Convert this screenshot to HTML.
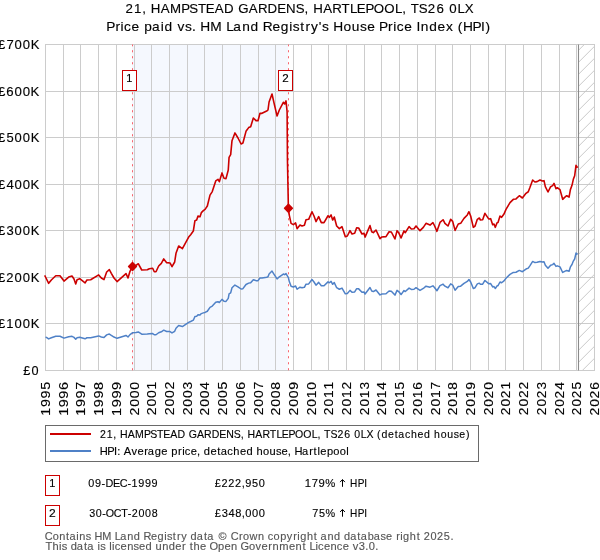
<!DOCTYPE html>
<html><head><meta charset="utf-8"><title>chart</title>
<style>html,body{margin:0;padding:0;background:#fff;}svg{display:block;}</style></head><body>
<svg width="600" height="560" viewBox="0 0 600 560" font-family="'Liberation Sans', sans-serif">
<rect width="600" height="560" fill="#fff"/>
<rect x="132" y="44.5" width="156" height="326.00" fill="#f5f8fe"/>
<path d="M63.5 44.5V370.5M80.5 44.5V370.5M98.5 44.5V370.5M116.5 44.5V370.5M134.5 44.5V370.5M151.5 44.5V370.5M169.5 44.5V370.5M187.5 44.5V370.5M204.5 44.5V370.5M222.5 44.5V370.5M240.5 44.5V370.5M258.5 44.5V370.5M275.5 44.5V370.5M293.5 44.5V370.5M311.5 44.5V370.5M328.5 44.5V370.5M346.5 44.5V370.5M364.5 44.5V370.5M381.5 44.5V370.5M399.5 44.5V370.5M417.5 44.5V370.5M435.5 44.5V370.5M452.5 44.5V370.5M470.5 44.5V370.5M488.5 44.5V370.5M505.5 44.5V370.5M523.5 44.5V370.5M541.5 44.5V370.5M559.5 44.5V370.5M576.5 44.5V370.5M45.5 323.5H594.5M45.5 277.5H594.5M45.5 230.5H594.5M45.5 184.5H594.5M45.5 137.5H594.5M45.5 91.5H594.5" stroke="#cccccc" stroke-width="1" fill="none"/>
<clipPath id="hc"><rect x="578.5" y="44.5" width="16.00" height="326.00"/></clipPath>
<path d="M576.50 -91.70L596.50 -111.70M576.50 -79.70L596.50 -99.70M576.50 -67.70L596.50 -87.70M576.50 -55.70L596.50 -75.70M576.50 -43.70L596.50 -63.70M576.50 -31.70L596.50 -51.70M576.50 -19.70L596.50 -39.70M576.50 -7.70L596.50 -27.70M576.50 4.30L596.50 -15.70M576.50 16.30L596.50 -3.70M576.50 28.30L596.50 8.30M576.50 40.30L596.50 20.30M576.50 52.30L596.50 32.30M576.50 64.30L596.50 44.30M576.50 76.30L596.50 56.30M576.50 88.30L596.50 68.30M576.50 100.30L596.50 80.30M576.50 112.30L596.50 92.30M576.50 124.30L596.50 104.30M576.50 136.30L596.50 116.30M576.50 148.30L596.50 128.30M576.50 160.30L596.50 140.30M576.50 172.30L596.50 152.30M576.50 184.30L596.50 164.30M576.50 196.30L596.50 176.30M576.50 208.30L596.50 188.30M576.50 220.30L596.50 200.30M576.50 232.30L596.50 212.30M576.50 244.30L596.50 224.30M576.50 256.30L596.50 236.30M576.50 268.30L596.50 248.30M576.50 280.30L596.50 260.30M576.50 292.30L596.50 272.30M576.50 304.30L596.50 284.30M576.50 316.30L596.50 296.30M576.50 328.30L596.50 308.30M576.50 340.30L596.50 320.30M576.50 352.30L596.50 332.30M576.50 364.30L596.50 344.30M576.50 376.30L596.50 356.30M576.50 388.30L596.50 368.30M576.50 400.30L596.50 380.30M576.50 412.30L596.50 392.30M576.50 424.30L596.50 404.30M576.50 436.30L596.50 416.30M576.50 448.30L596.50 428.30M576.50 460.30L596.50 440.30M576.50 472.30L596.50 452.30M576.50 484.30L596.50 464.30M576.50 496.30L596.50 476.30M576.50 508.30L596.50 488.30M576.50 520.30L596.50 500.30" stroke="#c4c4c4" stroke-width="0.9" fill="none" clip-path="url(#hc)"/>
<rect x="45.5" y="44.5" width="549.00" height="326.00" fill="none" stroke="#cccccc" stroke-width="1"/>
<path d="M578.5 44.5V370.5" stroke="#8a8a8a" stroke-width="1.1" fill="none"/>
<path d="M132.5 370.3V44.5" stroke="#f8666f" stroke-width="1" stroke-dasharray="2.1 3.9" fill="none"/>
<path d="M288.5 370.3V44.5" stroke="#f8666f" stroke-width="1" stroke-dasharray="2.1 3.9" fill="none"/>
<path d="M46.00 336.67L46.00 337.03L48.67 338.94L51.33 337.74L55.73 336.21L60.00 336.21L64.00 338.13L68.67 336.69L72.00 336.31L74.00 337.36L75.73 339.18L77.07 337.65L79.73 337.27L85.07 338.79L86.93 337.74L90.67 337.65L98.67 335.92L101.33 337.03L104.00 337.60L106.67 334.87L109.33 334.01L111.33 335.35L114.00 337.03L117.07 338.32L126.00 335.45L128.00 337.03L130.00 334.63L132.40 332.87L136.00 332.48L138.27 331.91L141.73 334.16L147.33 334.06L149.33 333.68L152.67 333.54L154.27 334.78L156.00 334.78L158.67 332.72L161.33 331.77L163.73 330.19L166.67 331.53L170.00 331.62L172.00 332.96L174.67 331.29L176.00 328.18L178.67 325.56L182.40 326.51L188.67 322.35L190.67 321.49L193.33 320.20L194.93 316.48L196.67 316.24L198.00 314.80L200.00 315.04L201.33 313.61L203.33 312.89L205.07 312.41L207.33 311.22L210.00 307.30L212.27 306.06L215.73 302.23L218.00 301.66L219.33 302.52L222.00 299.37L224.00 301.28L226.00 301.42L228.27 298.32L229.07 293.77L230.67 292.82L232.00 287.80L234.93 285.03L238.00 286.85L241.07 289.00L242.93 288.66L246.00 284.46L248.67 283.12L250.67 282.78L253.33 279.68L256.00 280.63L258.00 280.63L260.00 278.00L262.00 278.00L266.67 277.19L268.00 276.81L269.07 273.94L272.00 271.08L274.40 274.90L277.07 278.96L279.33 276.81L283.33 274.04L284.67 274.66L286.00 273.56L288.40 277.60L289.33 281.62L291.07 286.19L293.33 286.95L295.60 285.96L297.07 289.24L300.00 287.18L302.00 287.71L304.40 287.33L306.00 284.13L308.67 283.90L312.00 279.56L314.00 282.00L316.00 285.20L318.67 282.38L321.33 285.81L324.00 285.81L328.00 281.85L329.33 282.76L331.07 281.39L332.67 284.29L334.27 282.61L336.67 287.71L339.33 289.24L342.00 288.10L345.33 293.81L347.33 293.43L350.00 290.38L352.00 292.29L354.67 291.90L356.67 288.70L358.67 288.86L362.00 292.29L364.00 291.90L365.07 294.04L370.00 287.49L371.73 290.99L373.33 291.53L376.00 290.00L380.00 294.95L381.60 294.04L386.00 293.81L389.07 290.99L391.33 291.14L394.93 295.10L397.07 290.38L398.67 291.53L401.07 294.57L404.00 290.53L405.33 291.53L409.07 288.10L411.33 289.47L414.00 289.24L416.00 287.71L420.00 290.38L423.33 288.47L426.00 286.19L430.00 287.18L432.93 285.81L434.67 287.71L436.93 290.76L440.00 285.66L443.07 284.13L444.93 286.19L448.00 287.71L450.67 283.90L452.67 285.05L455.07 290.23L458.27 286.57L460.67 286.19L464.00 283.37L467.33 281.39L468.93 279.56L470.67 282.00L473.33 288.47L475.07 287.71L477.33 283.90L479.33 283.14L480.40 284.29L482.67 284.13L484.93 280.47L488.67 283.67L490.67 283.53L492.67 286.95L494.00 286.57L495.33 288.47L497.07 285.81L498.00 285.66L500.00 282.00L501.60 282.76L504.00 280.86L506.00 278.19L510.00 274.38L513.33 272.47L516.00 272.25L519.33 270.42L522.40 271.71L526.00 269.05L528.27 268.13L530.00 265.62L532.67 261.43L534.93 262.57L537.07 262.34L540.00 261.43L542.40 262.04L544.00 261.81L545.33 265.24L548.00 268.29L550.67 265.24L552.67 264.63L554.00 263.33L556.00 266.38L557.33 265.85L560.00 266.91L562.67 272.47L564.67 271.33L566.67 270.42L569.07 271.18L570.40 266.91L572.00 264.47L573.33 261.05L574.67 258.99L576.00 253.05L577.60 254.42" stroke="#4f81c7" stroke-width="1.5" fill="none" stroke-linejoin="round"/>
<path d="M44.67 275.33L46.00 278.00L48.67 283.33L51.33 280.00L55.73 275.73L60.00 275.73L64.00 281.07L68.67 277.07L72.00 276.00L74.00 278.93L75.73 284.00L77.07 279.73L79.73 278.67L85.07 282.93L86.93 280.00L90.67 279.73L98.67 274.93L101.33 278.00L104.00 279.60L106.67 272.00L109.33 269.60L111.33 273.33L114.00 278.00L117.07 281.60L126.00 273.60L128.00 278.00L130.00 271.33L132.40 266.40L136.00 265.33L138.27 263.73L141.73 270.00L147.33 269.73L149.33 268.67L152.67 268.27L154.27 271.73L156.00 271.73L158.67 266.00L161.33 263.33L163.73 258.93L166.67 262.67L170.00 262.93L172.00 266.67L174.67 262.00L176.00 253.33L178.67 246.00L182.40 248.67L188.67 237.07L190.67 234.67L193.33 231.07L194.93 220.67L196.67 220.00L198.00 216.00L200.00 216.67L201.33 212.67L203.33 210.67L205.07 209.33L207.33 206.00L210.00 195.07L212.27 191.60L215.73 180.93L218.00 179.33L219.33 181.73L222.00 172.93L224.00 178.27L226.00 178.67L228.27 170.00L229.07 157.33L230.67 154.67L232.00 140.67L234.93 132.93L238.00 138.00L241.07 144.00L242.93 143.07L246.00 131.33L248.67 127.60L250.67 126.67L253.33 118.00L256.00 120.67L258.00 120.67L260.00 113.33L262.00 113.33L266.67 111.07L268.00 110.00L269.07 102.00L272.00 94.00L274.40 104.67L277.07 116.00L279.33 110.00L283.33 102.27L284.67 104.00L286.00 100.93L287.10 111.62L287.45 160.00L288.40 208.30L289.33 215.33L291.07 223.33L293.33 224.67L295.60 222.93L297.07 228.67L300.00 225.07L302.00 226.00L304.40 225.33L306.00 219.73L308.67 219.33L312.00 211.73L314.00 216.00L316.00 221.60L318.67 216.67L321.33 222.67L324.00 222.67L328.00 215.73L329.33 217.33L331.07 214.93L332.67 220.00L334.27 217.07L336.67 226.00L339.33 228.67L342.00 226.67L345.33 236.67L347.33 236.00L350.00 230.67L352.00 234.00L354.67 233.33L356.67 227.73L358.67 228.00L362.00 234.00L364.00 233.33L365.07 237.07L370.00 225.60L371.73 231.73L373.33 232.67L376.00 230.00L380.00 238.67L381.60 237.07L386.00 236.67L389.07 231.73L391.33 232.00L394.93 238.93L397.07 230.67L398.67 232.67L401.07 238.00L404.00 230.93L405.33 232.67L409.07 226.67L411.33 229.07L414.00 228.67L416.00 226.00L420.00 230.67L423.33 227.33L426.00 223.33L430.00 225.07L432.93 222.67L434.67 226.00L436.93 231.33L440.00 222.40L443.07 219.73L444.93 223.33L448.00 226.00L450.67 219.33L452.67 221.33L455.07 230.40L458.27 224.00L460.67 223.33L464.00 218.40L467.33 214.93L468.93 211.73L470.67 216.00L473.33 227.33L475.07 226.00L477.33 219.33L479.33 218.00L480.40 220.00L482.67 219.73L484.93 213.33L488.67 218.93L490.67 218.67L492.67 224.67L494.00 224.00L495.33 227.33L497.07 222.67L498.00 222.40L500.00 216.00L501.60 217.33L504.00 214.00L506.00 209.33L510.00 202.67L513.33 199.33L516.00 198.93L519.33 195.73L522.40 198.00L526.00 193.33L528.27 191.73L530.00 187.33L532.67 180.00L534.93 182.00L537.07 181.60L540.00 180.00L542.40 181.07L544.00 180.67L545.33 186.67L548.00 192.00L550.67 186.67L552.67 185.60L554.00 183.33L556.00 188.67L557.33 187.73L560.00 189.60L562.67 199.33L564.67 197.33L566.67 195.73L569.07 197.07L570.40 189.60L572.00 185.33L573.33 179.33L574.67 175.73L576.00 165.33L577.60 167.73" stroke="#cc0000" stroke-width="1.6" fill="none" stroke-linejoin="round"/>
<path d="M132.5 262.6L136.4 266.5L132.5 270.4L128.6 266.5Z" fill="#cc0000" stroke="#cc0000" stroke-width="1.5" stroke-linejoin="round"/>
<path d="M288.45 204.4L292.34999999999997 208.3L288.45 212.20000000000002L284.55 208.3Z" fill="#cc0000" stroke="#cc0000" stroke-width="1.5" stroke-linejoin="round"/>
<rect x="122.5" y="70.5" width="14.00" height="20" fill="#fff" stroke="#cc0000" stroke-width="1"/>
<rect x="278.5" y="70.5" width="14.00" height="20" fill="#fff" stroke="#cc0000" stroke-width="1"/>
<rect x="45.5" y="425.5" width="433" height="36" fill="#fff" stroke="#6a6a6a" stroke-width="1"/>
<path d="M50 434H91" stroke="#cc0000" stroke-width="2"/>
<path d="M50 451H91" stroke="#4f81c7" stroke-width="2"/>
<rect x="45.5" y="475.5" width="14" height="20" fill="#fff" stroke="#cc0000" stroke-width="1"/>
<rect x="45.5" y="505.5" width="14" height="20" fill="#fff" stroke="#cc0000" stroke-width="1"/>
<path d="M342.5 486.8V479.80M340.1 482.10L342.5 479.50L344.9 482.10" stroke="#000" stroke-width="1" fill="none"/>
<path d="M342.5 516.7V509.70M340.1 512.00L342.5 509.40L344.9 512.00" stroke="#000" stroke-width="1" fill="none"/>
<g opacity="0.999">
<text transform="translate(0,81.90) scale(1.0094,1.0000)" x="125.20" font-size="10.8" fill="#000" stroke="#000" stroke-width="0.14" xml:space="preserve">1</text>
<text transform="translate(0,81.90) scale(1.0772,1.0000)" x="262.08" font-size="10.8" fill="#000" stroke="#000" stroke-width="0.14" xml:space="preserve">2</text>
<text transform="translate(0,12.60) scale(1.0301,1.0000)" x="121.74 130.12 138.05 142.04 146.40 156.09 165.08 175.90 183.78 192.18 199.86 208.44 217.57 227.20 231.34 241.54 250.37 259.71 269.11 277.75 287.17 295.67 299.66 304.01 313.70 322.53 331.52 339.75 346.44 354.73 362.82 373.05 383.51 390.57 394.56 398.72 406.52 415.26 423.70 431.42 436.10 444.15 451.20" font-size="12.9" fill="#000" stroke="#000" stroke-width="0.14" xml:space="preserve">21, HAMPSTEAD GARDENS, HARTLEPOOL, TS26 0LX</text>
<text transform="translate(0,31.00) scale(1.0636,1.0000)" x="100.01 108.57 113.37 116.63 123.76 131.19 135.67 142.96 151.18 154.68 162.33 166.82 173.90 180.51 184.31 188.36 197.80 208.59 212.77 219.39 227.71 235.58 243.23 247.14 256.27 264.02 271.99 275.30 282.35 287.32 292.30 299.74 302.83 309.24 313.30 322.95 330.75 338.48 345.20 352.62 356.32 364.88 369.68 372.94 380.07 387.50 391.55 395.62 403.49 411.44 419.34 426.31 430.28 435.27 444.36 452.30 456.57" font-size="12.9" fill="#000" stroke="#000" stroke-width="0.14" xml:space="preserve">Price paid vs. HM Land Registry's House Price Index (HPI)</text>
<text transform="translate(0,374.80) scale(1.0230,1.0000)" x="22.75 30.87" font-size="12.4" fill="#000" stroke="#000" stroke-width="0.14" xml:space="preserve">£0</text>
<text transform="translate(0,327.80) scale(1.0507,1.0000)" x="-1.88 6.06 13.90 21.69 29.20" font-size="12.4" fill="#000" stroke="#000" stroke-width="0.14" xml:space="preserve">£100K</text>
<text transform="translate(0,281.80) scale(1.0524,1.0000)" x="-1.89 5.94 13.88 21.65 29.14" font-size="12.4" fill="#000" stroke="#000" stroke-width="0.14" xml:space="preserve">£200K</text>
<text transform="translate(0,234.80) scale(1.0517,1.0000)" x="-1.89 6.13 13.89 21.66 29.16" font-size="12.4" fill="#000" stroke="#000" stroke-width="0.14" xml:space="preserve">£300K</text>
<text transform="translate(0,188.80) scale(1.0602,1.0000)" x="-1.90 6.03 13.75 21.46 28.89" font-size="12.4" fill="#000" stroke="#000" stroke-width="0.14" xml:space="preserve">£400K</text>
<text transform="translate(0,141.80) scale(1.0482,1.0000)" x="-1.88 6.10 13.94 21.75 29.27" font-size="12.4" fill="#000" stroke="#000" stroke-width="0.14" xml:space="preserve">£500K</text>
<text transform="translate(0,95.80) scale(1.0667,1.0000)" x="-1.91 5.98 13.64 21.31 28.69" font-size="12.4" fill="#000" stroke="#000" stroke-width="0.14" xml:space="preserve">£600K</text>
<text transform="translate(0,48.80) scale(1.0552,1.0000)" x="-1.89 6.06 13.83 21.58 29.05" font-size="12.4" fill="#000" stroke="#000" stroke-width="0.14" xml:space="preserve">£700K</text>
<text transform="translate(50.10,414.60) rotate(-90) scale(1.1164,1.0000)" x="-1.08 6.74 14.53 22.32" font-size="12.8" fill="#000" stroke="#000" stroke-width="0.14">1995</text>
<text transform="translate(68.10,414.60) rotate(-90) scale(1.1311,1.0000)" x="-1.14 6.50 14.11 21.76" font-size="12.8" fill="#000" stroke="#000" stroke-width="0.14">1996</text>
<text transform="translate(85.10,414.60) rotate(-90) scale(1.1258,1.0000)" x="-1.10 6.65 14.37 22.10" font-size="12.8" fill="#000" stroke="#000" stroke-width="0.14">1997</text>
<text transform="translate(103.10,414.60) rotate(-90) scale(1.1268,1.0000)" x="-1.12 6.56 14.22 21.92" font-size="12.8" fill="#000" stroke="#000" stroke-width="0.14">1998</text>
<text transform="translate(121.10,414.60) rotate(-90) scale(1.1340,1.0000)" x="-1.14 6.51 14.12 21.74" font-size="12.8" fill="#000" stroke="#000" stroke-width="0.14">1999</text>
<text transform="translate(139.10,414.60) rotate(-90) scale(1.0895,1.0000)" x="-0.72 7.23 15.02 22.82" font-size="12.8" fill="#000" stroke="#000" stroke-width="0.14">2000</text>
<text transform="translate(156.10,414.60) rotate(-90) scale(1.0894,1.0000)" x="-0.69 7.35 15.23 23.04" font-size="12.8" fill="#000" stroke="#000" stroke-width="0.14">2001</text>
<text transform="translate(174.10,414.60) rotate(-90) scale(1.0951,1.0000)" x="-0.70 7.33 15.19 22.89" font-size="12.8" fill="#000" stroke="#000" stroke-width="0.14">2002</text>
<text transform="translate(192.10,414.60) rotate(-90) scale(1.0847,1.0000)" x="-0.70 7.34 15.21 23.10" font-size="12.8" fill="#000" stroke="#000" stroke-width="0.14">2003</text>
<text transform="translate(209.10,414.60) rotate(-90) scale(1.0850,1.0000)" x="-0.72 7.23 15.02 22.81" font-size="12.8" fill="#000" stroke="#000" stroke-width="0.14">2004</text>
<text transform="translate(227.10,414.60) rotate(-90) scale(1.0834,1.0000)" x="-0.68 7.39 15.29 23.15" font-size="12.8" fill="#000" stroke="#000" stroke-width="0.14">2005</text>
<text transform="translate(245.10,414.60) rotate(-90) scale(1.0973,1.0000)" x="-0.75 7.14 14.87 22.59" font-size="12.8" fill="#000" stroke="#000" stroke-width="0.14">2006</text>
<text transform="translate(263.10,414.60) rotate(-90) scale(1.0922,1.0000)" x="-0.71 7.29 15.13 22.94" font-size="12.8" fill="#000" stroke="#000" stroke-width="0.14">2007</text>
<text transform="translate(280.10,414.60) rotate(-90) scale(1.0933,1.0000)" x="-0.73 7.20 14.97 22.75" font-size="12.8" fill="#000" stroke="#000" stroke-width="0.14">2008</text>
<text transform="translate(298.10,414.60) rotate(-90) scale(1.1001,1.0000)" x="-0.75 7.14 14.87 22.57" font-size="12.8" fill="#000" stroke="#000" stroke-width="0.14">2009</text>
<text transform="translate(316.10,414.60) rotate(-90) scale(1.0777,1.0000)" x="-0.69 7.35 15.16 23.11" font-size="12.8" fill="#000" stroke="#000" stroke-width="0.14">2010</text>
<text transform="translate(333.10,414.60) rotate(-90) scale(1.0769,1.0000)" x="-0.66 7.48 15.38 23.35" font-size="12.8" fill="#000" stroke="#000" stroke-width="0.14">2011</text>
<text transform="translate(351.10,414.60) rotate(-90) scale(1.0827,1.0000)" x="-0.67 7.45 15.34 23.20" font-size="12.8" fill="#000" stroke="#000" stroke-width="0.14">2012</text>
<text transform="translate(369.10,414.60) rotate(-90) scale(1.0725,1.0000)" x="-0.66 7.46 15.36 23.40" font-size="12.8" fill="#000" stroke="#000" stroke-width="0.14">2013</text>
<text transform="translate(386.10,414.60) rotate(-90) scale(1.0735,1.0000)" x="-0.69 7.35 15.16 23.10" font-size="12.8" fill="#000" stroke="#000" stroke-width="0.14">2014</text>
<text transform="translate(404.10,414.60) rotate(-90) scale(1.0711,1.0000)" x="-0.65 7.51 15.45 23.46" font-size="12.8" fill="#000" stroke="#000" stroke-width="0.14">2015</text>
<text transform="translate(422.10,414.60) rotate(-90) scale(1.0857,1.0000)" x="-0.72 7.25 15.00 22.87" font-size="12.8" fill="#000" stroke="#000" stroke-width="0.14">2016</text>
<text transform="translate(440.10,414.60) rotate(-90) scale(1.0800,1.0000)" x="-0.68 7.41 15.27 23.24" font-size="12.8" fill="#000" stroke="#000" stroke-width="0.14">2017</text>
<text transform="translate(457.10,414.60) rotate(-90) scale(1.0815,1.0000)" x="-0.70 7.32 15.11 23.03" font-size="12.8" fill="#000" stroke="#000" stroke-width="0.14">2018</text>
<text transform="translate(475.10,414.60) rotate(-90) scale(1.0884,1.0000)" x="-0.72 7.26 15.01 22.85" font-size="12.8" fill="#000" stroke="#000" stroke-width="0.14">2019</text>
<text transform="translate(493.10,414.60) rotate(-90) scale(1.0797,1.0000)" x="-0.70 7.33 15.03 23.06" font-size="12.8" fill="#000" stroke="#000" stroke-width="0.14">2020</text>
<text transform="translate(510.10,414.60) rotate(-90) scale(1.0791,1.0000)" x="-0.67 7.45 15.24 23.30" font-size="12.8" fill="#000" stroke="#000" stroke-width="0.14">2021</text>
<text transform="translate(528.10,414.60) rotate(-90) scale(1.0849,1.0000)" x="-0.67 7.43 15.20 23.14" font-size="12.8" fill="#000" stroke="#000" stroke-width="0.14">2022</text>
<text transform="translate(546.10,414.60) rotate(-90) scale(1.0747,1.0000)" x="-0.67 7.44 15.22 23.35" font-size="12.8" fill="#000" stroke="#000" stroke-width="0.14">2023</text>
<text transform="translate(564.10,414.60) rotate(-90) scale(1.0754,1.0000)" x="-0.70 7.33 15.02 23.05" font-size="12.8" fill="#000" stroke="#000" stroke-width="0.14">2024</text>
<text transform="translate(581.10,414.60) rotate(-90) scale(1.0733,1.0000)" x="-0.66 7.49 15.31 23.40" font-size="12.8" fill="#000" stroke="#000" stroke-width="0.14">2025</text>
<text transform="translate(599.10,414.60) rotate(-90) scale(1.0876,1.0000)" x="-0.72 7.23 14.87 22.83" font-size="12.8" fill="#000" stroke="#000" stroke-width="0.14">2026</text>
<text transform="translate(0,438.20) scale(0.9684,1.0000)" x="103.37 110.37 117.00 120.35 123.95 132.04 139.54 148.58 155.17 162.18 168.59 175.76 183.38 191.47 194.88 203.40 210.77 218.57 226.42 233.63 241.50 248.62 251.97 255.57 263.66 271.03 278.54 285.41 291.00 297.92 304.67 313.22 321.95 327.87 331.22 334.66 341.17 348.47 355.52 362.00 365.87 372.59 378.48 385.85 389.32 393.87 400.75 407.69 411.25 418.14 424.39 431.18 437.88 444.42 448.29 455.04 461.78 468.45 474.26 481.18" font-size="10.9" fill="#000" stroke="#000" stroke-width="0.14" xml:space="preserve">21, HAMPSTEAD GARDENS, HARTLEPOOL, TS26 0LX (detached house)</text>
<text transform="translate(0,455.00) scale(1.0201,1.0000)" x="97.74 105.17 111.74 114.99 118.23 121.38 128.85 134.77 141.43 144.90 151.64 158.14 164.31 167.88 174.60 178.56 181.17 186.99 193.18 196.43 199.87 206.38 213.02 216.31 222.86 228.76 235.20 241.54 247.90 251.40 257.79 264.17 270.51 275.99 282.18 285.43 288.62 296.16 303.22 307.43 311.20 313.99 320.46 326.80 333.09 339.48" font-size="10.9" fill="#000" stroke="#000" stroke-width="0.14" xml:space="preserve">HPI: Average price, detached house, Hartlepool</text>
<text transform="translate(0,486.80) scale(1.0094,1.0000)" x="48.71" font-size="10.8" fill="#000" stroke="#000" stroke-width="0.14" xml:space="preserve">1</text>
<text transform="translate(0,516.70) scale(1.1179,1.0000)" x="43.83" font-size="10.8" fill="#000" stroke="#000" stroke-width="0.14" xml:space="preserve">2</text>
<text transform="translate(0,486.80) scale(0.9936,1.0000)" x="88.91 95.63 102.18 106.08 113.77 120.50 128.30 132.33 139.10 145.85 152.61" font-size="10.9" fill="#000" stroke="#000" stroke-width="0.14" xml:space="preserve">09-DEC-1999</text>
<text transform="translate(0,516.70) scale(0.9845,1.0000)" x="90.66 97.37 103.87 107.52 115.62 123.21 129.86 133.78 140.65 147.38 154.11" font-size="10.9" fill="#000" stroke="#000" stroke-width="0.14" xml:space="preserve">30-OCT-2008</text>
<text transform="translate(0,486.80) scale(1.0046,1.0000)" x="213.77 220.55 227.28 234.00 240.60 244.20 250.91 257.68" font-size="10.9" fill="#000" stroke="#000" stroke-width="0.14" xml:space="preserve">£222,950</text>
<text transform="translate(0,516.70) scale(1.0192,1.0000)" x="210.68 217.52 224.13 230.76 237.15 240.71 247.33 253.96" font-size="10.9" fill="#000" stroke="#000" stroke-width="0.14" xml:space="preserve">£348,000</text>
<text transform="translate(0,486.80) scale(1.0348,1.0000)" x="294.44 301.16 307.83 314.39" font-size="10.9" fill="#000" stroke="#000" stroke-width="0.14" xml:space="preserve">179%</text>
<text transform="translate(0,516.70) scale(0.9955,1.0000)" x="313.60 320.38 327.09" font-size="10.9" fill="#000" stroke="#000" stroke-width="0.14" xml:space="preserve">75%</text>
<text transform="translate(0,486.80) scale(0.9235,1.0000)" x="379.13 387.41 394.47" font-size="10.9" fill="#000" stroke="#000" stroke-width="0.14" xml:space="preserve">HPI</text>
<text transform="translate(0,516.70) scale(0.9235,1.0000)" x="379.13 387.41 394.47" font-size="10.9" fill="#000" stroke="#000" stroke-width="0.14" xml:space="preserve">HPI</text>
<text transform="translate(0,539.60) scale(1.0034,1.0000)" x="44.71 52.52 59.05 65.87 69.24 76.11 79.07 85.46 90.83 94.14 101.97 111.02 114.44 119.94 126.86 133.40 139.81 142.99 150.59 157.04 163.70 166.42 172.30 176.43 180.55 186.37 189.91 196.10 203.23 206.60 213.22 217.75 226.99 229.96 238.14 242.06 248.62 257.13 263.45 266.80 272.68 279.26 285.90 292.26 296.26 299.14 305.84 312.68 316.27 319.37 326.29 332.83 339.24 342.78 348.97 356.10 359.47 366.44 372.50 379.20 384.77 391.00 394.85 398.86 401.73 408.43 415.27 418.86 422.33 429.12 435.63 442.37 448.91" font-size="10.9" fill="#555" stroke="#555" stroke-width="0.14" xml:space="preserve">Contains HM Land Registry data © Crown copyright and database right 2025.</text>
<text transform="translate(0,550.10) scale(1.0193,1.0000)" x="44.76 51.44 57.92 60.56 65.88 69.30 75.35 82.37 85.64 92.20 95.67 98.31 103.63 107.09 109.94 112.54 118.34 124.73 131.00 136.46 142.78 149.12 152.56 159.09 165.51 171.98 178.63 182.35 186.07 189.84 196.25 202.41 205.45 214.00 220.36 226.75 233.00 235.99 244.29 250.76 256.65 263.29 267.26 273.98 283.62 290.01 296.73 300.28 303.56 309.46 312.05 317.85 324.24 330.46 336.27 342.42 345.98 351.97 358.36 361.73 368.13" font-size="10.9" fill="#555" stroke="#555" stroke-width="0.14" xml:space="preserve">This data is licensed under the Open Government Licence v3.0.</text>
</g></svg></body></html>
